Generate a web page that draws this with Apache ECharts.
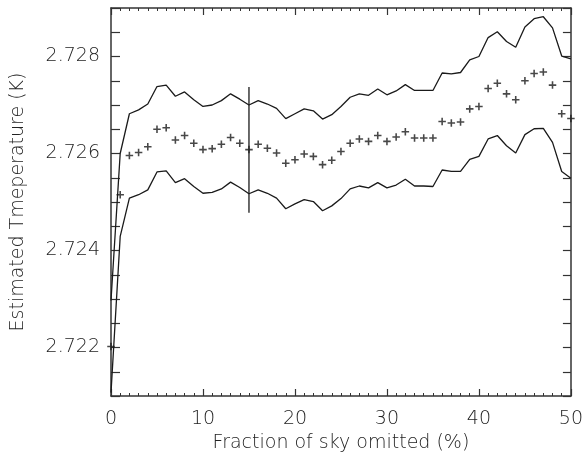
<!DOCTYPE html>
<html>
<head>
<meta charset="utf-8">
<script src="https://cdn.jsdelivr.net/npm/echarts@6/dist/echarts.min.js"></script>
<style>
  html, body { margin: 0; padding: 0; background: #fff; }
  #main { width: 586px; height: 462px; }
</style>
</head>
<body>
<div id="main"></div>
<script>
// fraction of sky omitted (%)
var fraction = [0, 1, 2, 3, 4, 5, 6, 7, 8, 9, 10, 11, 12, 13, 14, 15, 16, 17, 18, 19, 20,
  21, 22, 23, 24, 25, 26, 27, 28, 29, 30, 31, 32, 33, 34, 35, 36, 37, 38, 39, 40,
  41, 42, 43, 44, 45, 46, 47, 48, 49, 50];

// estimated temperature (K), plus markers
var estimate = [2.72202, 2.72515, 2.72596, 2.72602, 2.72614, 2.72650, 2.72653, 2.72628, 2.72637, 2.72621, 2.72608,
  2.72610, 2.72619, 2.72633, 2.72621, 2.72608, 2.72619, 2.72611, 2.72601, 2.72580, 2.72587,
  2.72599, 2.72594, 2.72577, 2.72586, 2.72604, 2.72621, 2.72630, 2.72625, 2.72637, 2.72625,
  2.72634, 2.72645, 2.72632, 2.72632, 2.72632, 2.72666, 2.72663, 2.72665, 2.72692, 2.72697,
  2.72734, 2.72745, 2.72723, 2.72711, 2.72750, 2.72765, 2.72768, 2.72741, 2.72682, 2.72672];

// upper and lower envelope
var upper = [2.72297, 2.72600, 2.72682, 2.72690, 2.72702, 2.72738, 2.72741, 2.72718, 2.72727, 2.72711, 2.72697,
  2.72700, 2.72709, 2.72723, 2.72712, 2.72700, 2.72709, 2.72702, 2.72693, 2.72672, 2.72682,
  2.72692, 2.72688, 2.72671, 2.72680, 2.72697, 2.72716, 2.72723, 2.72720, 2.72733, 2.72721,
  2.72729, 2.72742, 2.72730, 2.72730, 2.72730, 2.72766, 2.72764, 2.72767, 2.72793, 2.72800,
  2.72839, 2.72851, 2.72831, 2.72819, 2.72861, 2.72878, 2.72882, 2.72859, 2.72801, 2.72795];

var lower = [2.72107, 2.72429, 2.72508, 2.72515, 2.72525, 2.72562, 2.72564, 2.72540, 2.72548, 2.72532, 2.72518,
  2.72520, 2.72527, 2.72541, 2.72530, 2.72517, 2.72525, 2.72518, 2.72508, 2.72486, 2.72496,
  2.72505, 2.72501, 2.72482, 2.72492, 2.72507, 2.72527, 2.72533, 2.72529, 2.72540, 2.72529,
  2.72535, 2.72547, 2.72533, 2.72533, 2.72532, 2.72566, 2.72563, 2.72563, 2.72588, 2.72594,
  2.72630, 2.72637, 2.72616, 2.72601, 2.72639, 2.72651, 2.72652, 2.72623, 2.72563, 2.72549];

// vertical bar at 15%
var barX = [15, 15];
var barY = [2.72478, 2.72737];

var yLabels = ['2.722', '2.724', '2.726', '2.728'];

function pairs(xs, ys) {
  return xs.map(function (x, i) { return [x, ys[i]]; });
}

var font = 'DejaVu Sans';
var ink = '#1a1a1a';
var textColor = '#222';
var axisColor = '#333';

// same frame style for all four sides
function frameAxis(extra) {
  var a = {
    type: 'value',
    axisLine: { show: true, onZero: false, lineStyle: { color: axisColor, width: 1.5 } },
    axisLabel: { show: false },
    splitLine: { show: false }
  };
  for (var k in extra) a[k] = extra[k];
  return a;
}

var xTick = { show: true, inside: true, length: 7, lineStyle: { color: axisColor, width: 1.2 } };
var xMinor = { show: true, splitNumber: 10, length: 3, lineStyle: { color: axisColor, width: 1 } };
var yTick = { show: true, inside: true, length: 9, lineStyle: { color: axisColor, width: 1.2 } };

var myChart = echarts.init(document.getElementById('main'));

var option = {
  backgroundColor: '#fff',
  animation: false,
  grid: { left: 111, right: 13, top: 8, bottom: 66 },
  xAxis: [
    frameAxis({
      min: 0, max: 50, interval: 10,
      name: 'Fraction of sky omitted (%)',
      nameLocation: 'middle',
      nameGap: 32,
      nameTextStyle: { fontFamily: font, fontSize: 19, fontWeight: 200, color: textColor },
      axisTick: xTick,
      minorTick: xMinor,
      axisLabel: { show: true, margin: 14, fontFamily: font, fontSize: 19, fontWeight: 200, color: textColor }
    }),
    frameAxis({
      position: 'top',
      min: 0, max: 50, interval: 10,
      axisTick: xTick,
      minorTick: xMinor
    })
  ],
  yAxis: [
    frameAxis({
      min: 2.721, max: 2.729, interval: 0.0005,
      name: 'Estimated Tmeperature (K)',
      nameLocation: 'middle',
      nameGap: 83,
      nameTextStyle: { fontFamily: font, fontSize: 19, fontWeight: 200, color: textColor },
      axisTick: yTick,
      axisLabel: {
        show: true, margin: 11, fontFamily: font, fontSize: 19, fontWeight: 200, color: textColor,
        formatter: function (v) {
          var s = v.toFixed(3);
          return (Math.round(v * 10000) % 20 === 0 && yLabels.indexOf(s) >= 0) ? s : '';
        }
      }
    }),
    frameAxis({
      position: 'right',
      min: 2.721, max: 2.729, interval: 0.0005,
      axisTick: { show: true, inside: true, length: 8, lineStyle: { color: axisColor, width: 1.2 } }
    })
  ],
  series: [{
    type: 'line',
    data: pairs(fraction, upper),
    symbol: 'none',
    lineStyle: { color: ink, width: 1.3 },
    z: 3
  }, {
    type: 'line',
    data: pairs(fraction, lower),
    symbol: 'none',
    lineStyle: { color: ink, width: 1.3 },
    z: 3
  }, {
    type: 'line',
    data: pairs(barX, barY),
    symbol: 'none',
    lineStyle: { color: ink, width: 1.3 },
    z: 3
  }, {
    type: 'scatter',
    data: pairs(fraction, estimate),
    symbol: 'path://M3,0h1.6v3h3v1.6h-3v3h-1.6v-3h-3v-1.6h3z',
    symbolSize: 7.5,
    itemStyle: { color: ink },
    z: 4
  }]
};

myChart.setOption(option);
</script>
</body>
</html>
